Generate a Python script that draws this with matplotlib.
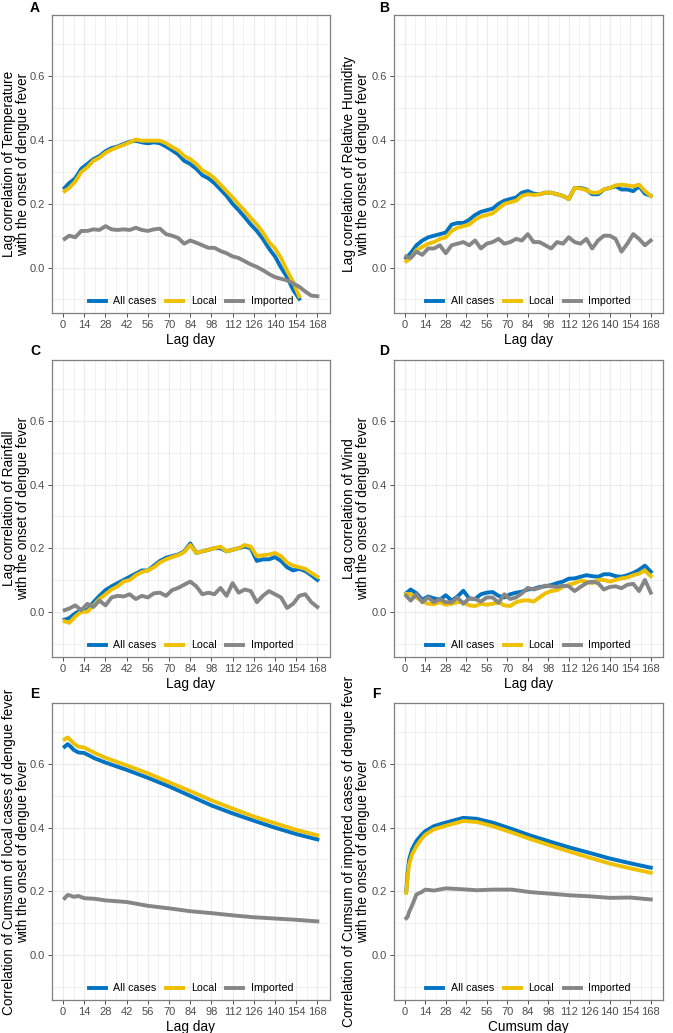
import numpy as np
import matplotlib
matplotlib.use("Agg")
import matplotlib.pyplot as plt

plt.rcParams['font.family'] = ['Liberation Sans', 'DejaVu Sans']

# lag days sampled every 4 days (first point = day 1)
lag = [1] + list(range(4, 169, 4))
nan = np.nan

temp_all = [0.25, 0.265, 0.28, 0.31, 0.325, 0.34, 0.35, 0.365, 0.375, 0.38, 0.388, 0.395, 0.398, 0.393,
            0.39, 0.393, 0.39, 0.38, 0.368, 0.355, 0.335, 0.325, 0.31, 0.29, 0.28, 0.265, 0.245, 0.225,
            0.20, 0.18, 0.158, 0.135, 0.115, 0.09, 0.06, 0.035, 0.0, -0.03, -0.07, -0.098, nan, nan, nan]
temp_local = [0.24, 0.25, 0.27, 0.30, 0.315, 0.335, 0.345, 0.36, 0.37, 0.378, 0.385, 0.393, 0.402, 0.398,
              0.398, 0.398, 0.398, 0.39, 0.378, 0.368, 0.35, 0.34, 0.325, 0.305, 0.295, 0.28, 0.26, 0.24,
              0.22, 0.198, 0.178, 0.155, 0.135, 0.11, 0.08, 0.06, 0.03, -0.01, -0.045, -0.09, nan, nan, nan]
temp_imp = [0.09, 0.10, 0.095, 0.115, 0.115, 0.12, 0.118, 0.13, 0.12, 0.118, 0.12, 0.118, 0.125, 0.118,
            0.115, 0.12, 0.122, 0.105, 0.10, 0.093, 0.075, 0.085, 0.078, 0.07, 0.062, 0.062, 0.052, 0.045,
            0.035, 0.03, 0.02, 0.01, 0.002, -0.008, -0.02, -0.03, -0.035, -0.04, -0.05, -0.06, -0.075,
            -0.088, -0.09]

hum_all = [0.03, 0.045, 0.07, 0.085, 0.095, 0.10, 0.105, 0.11, 0.135, 0.14, 0.14, 0.15, 0.165, 0.175,
           0.18, 0.185, 0.20, 0.21, 0.215, 0.22, 0.235, 0.24, 0.232, 0.23, 0.235, 0.235, 0.23, 0.225,
           0.215, 0.25, 0.25, 0.245, 0.23, 0.23, 0.245, 0.25, 0.255, 0.245, 0.245, 0.24, 0.255, 0.232, 0.225]
hum_local = [0.02, 0.03, 0.055, 0.065, 0.075, 0.08, 0.09, 0.095, 0.115, 0.125, 0.13, 0.135, 0.15, 0.16,
             0.165, 0.17, 0.185, 0.20, 0.205, 0.21, 0.225, 0.23, 0.228, 0.23, 0.235, 0.235, 0.23, 0.225,
             0.215, 0.25, 0.248, 0.243, 0.235, 0.235, 0.245, 0.25, 0.258, 0.26, 0.258, 0.255, 0.26, 0.24,
             0.225]
hum_imp = [0.035, 0.03, 0.05, 0.04, 0.06, 0.06, 0.07, 0.045, 0.07, 0.075, 0.08, 0.07, 0.085, 0.06,
           0.075, 0.08, 0.09, 0.075, 0.08, 0.09, 0.085, 0.105, 0.08, 0.08, 0.07, 0.06, 0.08, 0.075,
           0.095, 0.08, 0.075, 0.09, 0.06, 0.085, 0.10, 0.10, 0.09, 0.05, 0.075, 0.105, 0.09, 0.07, 0.085]

rain_all = [-0.025, -0.02, -0.005, 0.005, 0.005, 0.03, 0.05, 0.068, 0.08, 0.09, 0.10, 0.11, 0.12, 0.13,
            0.13, 0.145, 0.16, 0.17, 0.175, 0.18, 0.19, 0.215, 0.185, 0.19, 0.195, 0.2, 0.2, 0.19,
            0.195, 0.2, 0.205, 0.2, 0.16, 0.165, 0.165, 0.172, 0.16, 0.14, 0.13, 0.135, 0.128, 0.115, 0.10]
rain_local = [-0.03, -0.035, -0.015, 0.0, 0.0, 0.02, 0.04, 0.055, 0.07, 0.08, 0.095, 0.10, 0.115, 0.125,
              0.13, 0.14, 0.155, 0.165, 0.172, 0.178, 0.188, 0.21, 0.185, 0.19, 0.195, 0.2, 0.205, 0.19,
              0.195, 0.2, 0.21, 0.205, 0.175, 0.178, 0.18, 0.185, 0.175, 0.155, 0.145, 0.14, 0.135, 0.122,
              0.11]
rain_imp = [0.005, 0.01, 0.02, 0.005, 0.025, 0.015, 0.035, 0.02, 0.045, 0.05, 0.048, 0.055, 0.04, 0.05,
            0.045, 0.058, 0.06, 0.05, 0.068, 0.075, 0.085, 0.095, 0.08, 0.055, 0.06, 0.055, 0.075, 0.05,
            0.09, 0.06, 0.07, 0.065, 0.03, 0.05, 0.065, 0.055, 0.045, 0.012, 0.025, 0.05, 0.055, 0.03, 0.015]

wind_all = [0.058, 0.07, 0.058, 0.038, 0.048, 0.042, 0.038, 0.052, 0.035, 0.048, 0.066, 0.042, 0.04, 0.055,
            0.06, 0.062, 0.05, 0.045, 0.055, 0.06, 0.063, 0.07, 0.072, 0.078, 0.08, 0.084, 0.09, 0.095,
            0.104, 0.105, 0.11, 0.115, 0.112, 0.11, 0.118, 0.118, 0.112, 0.11, 0.115, 0.122, 0.132, 0.145,
            0.126]
wind_local = [0.056, 0.055, 0.045, 0.032, 0.025, 0.024, 0.03, 0.022, 0.025, 0.03, 0.03, 0.02, 0.018, 0.025,
              0.022, 0.025, 0.03, 0.02, 0.018, 0.03, 0.035, 0.036, 0.032, 0.045, 0.058, 0.065, 0.068, 0.078,
              0.085, 0.09, 0.098, 0.095, 0.09, 0.1, 0.1, 0.095, 0.1, 0.105, 0.108, 0.115, 0.12, 0.13, 0.112]
wind_imp = [0.05, 0.035, 0.055, 0.03, 0.045, 0.03, 0.04, 0.03, 0.03, 0.045, 0.025, 0.042, 0.04, 0.032,
            0.045, 0.045, 0.028, 0.055, 0.04, 0.045, 0.058, 0.075, 0.07, 0.075, 0.082, 0.08, 0.078, 0.082,
            0.08, 0.065, 0.078, 0.09, 0.095, 0.09, 0.07, 0.078, 0.08, 0.074, 0.085, 0.088, 0.065, 0.1, 0.06]

# cumulative panels are smooth, sampled more sparsely
cum_local_day = [1, 3, 5, 7, 10, 14, 21, 28, 42, 56, 70, 84, 98, 112, 126, 140, 154, 168]
cumlocal_all = [0.655, 0.663, 0.655, 0.645, 0.637, 0.635, 0.618, 0.605, 0.582, 0.557, 0.53, 0.50, 0.47,
                0.445, 0.422, 0.40, 0.38, 0.363]
cumlocal_local = [0.678, 0.684, 0.675, 0.665, 0.655, 0.652, 0.635, 0.62, 0.596, 0.571, 0.543, 0.515, 0.486,
                  0.46, 0.435, 0.414, 0.393, 0.376]
cumlocal_imp = [0.178, 0.188, 0.186, 0.182, 0.185, 0.178, 0.176, 0.171, 0.166, 0.154, 0.146, 0.137, 0.131,
                0.124, 0.118, 0.114, 0.110, 0.105]

cum_imp_day = [1, 2, 3, 5, 8, 11, 14, 20, 28, 40, 49, 60, 73, 86, 100, 113, 126, 140, 154, 168]
cumimp_all = [0.20, 0.26, 0.30, 0.332, 0.358, 0.375, 0.389, 0.405, 0.416, 0.431, 0.428, 0.416, 0.396, 0.375,
              0.355, 0.337, 0.321, 0.303, 0.288, 0.274]
cumimp_local = [0.195, 0.245, 0.285, 0.316, 0.342, 0.362, 0.378, 0.395, 0.406, 0.421, 0.418, 0.405, 0.385,
                0.364, 0.343, 0.324, 0.306, 0.287, 0.272, 0.258]
cumimp_imp = [0.115, 0.12, 0.135, 0.155, 0.19, 0.196, 0.205, 0.202, 0.209, 0.206, 0.203, 0.205, 0.205,
              0.197, 0.192, 0.187, 0.184, 0.179, 0.180, 0.174]

series_names = ['All cases', 'Local', 'Imported']
colors = ['#0073C2', '#EFC000', '#868686']

panels = [
    ('A', lag, [temp_all, temp_local, temp_imp],
     'Lag correlation of Temperature\nwith the onset of dengue fever', 'Lag day'),
    ('B', lag, [hum_all, hum_local, hum_imp],
     'Lag correlation of Relative Humidity\nwith the onset of dengue fever', 'Lag day'),
    ('C', lag, [rain_all, rain_local, rain_imp],
     'Lag correlation of Rainfall\nwith the onset of dengue fever', 'Lag day'),
    ('D', lag, [wind_all, wind_local, wind_imp],
     'Lag correlation of Wind\nwith the onset of dengue fever', 'Lag day'),
    ('E', cum_local_day, [cumlocal_all, cumlocal_local, cumlocal_imp],
     'Correlation of Cumsum of local cases of dengue fever\nwith the onset of dengue fever', 'Lag day'),
    ('F', cum_imp_day, [cumimp_all, cumimp_local, cumimp_imp],
     'Correlation of Cumsum of imported cases of dengue fever\nwith the onset of dengue fever', 'Cumsum day'),
]

W, H = 673, 1033
fig = plt.figure(figsize=(W / 100, H / 100), dpi=100)

# axes boxes in pixels: left, right / top, bottom
cols = [(52, 330), (394, 663)]
rows = [(15, 313), (360, 657), (703, 1000)]
letter_pos = [(30, 8), (379, 8), (30, 351), (379, 351), (30, 694), (372, 694)]

for i, (letter, x, ys, ylab, xlab) in enumerate(panels):
    (l, r) = cols[i % 2]
    (t, b) = rows[i // 2]
    ax = fig.add_axes([l / W, 1 - b / H, (r - l) / W, (b - t) / H])

    for y, name, c in zip(ys, series_names, colors):
        ax.plot(x, y, color=c, lw=2.8, label=name, solid_joinstyle='round')

    ax.set_xlim(-7.35, 176.35)
    ax.set_ylim(-0.1425, 0.7925)
    ax.set_xticks(np.arange(0, 169, 14))
    ax.set_xticks(np.arange(7, 169, 14), minor=True)
    ax.set_yticks([0.0, 0.2, 0.4, 0.6])
    ax.set_yticks([-0.1, 0.1, 0.3, 0.5, 0.7], minor=True)
    ax.set_yticklabels(['0.0', '0.2', '0.4', '0.6'])
    ax.grid(which='major', color='#EBEBEB', lw=0.8)
    ax.grid(which='minor', color='#EBEBEB', lw=0.5)
    ax.set_axisbelow(True)
    ax.tick_params(which='major', length=3, width=0.6, color='#333333',
                   labelsize=8, labelcolor='#4D4D4D', pad=2)
    ax.tick_params(which='minor', length=0)
    for s in ax.spines.values():
        s.set_color('#7F7F7F')
        s.set_linewidth(0.9)

    ax.set_xlabel(xlab, fontsize=9.8, labelpad=2)
    ax.set_ylabel(ylab, fontsize=9.8, linespacing=1.05, va='center', ha='center')
    if i % 2 == 0:
        ax.yaxis.set_label_coords(-36 / (r - l), 0.5)
    else:
        ax.yaxis.set_label_coords(-38 / (r - l), 0.5)

    ax.legend(loc='lower center', bbox_to_anchor=(0.5, -0.01), ncol=3, frameon=False,
              fontsize=7.7, handlelength=1.6, handletextpad=0.7, columnspacing=0.9)

    lx, ly = letter_pos[i]
    fig.text(lx / W, 1 - ly / H, letter, fontsize=10, fontweight='bold', va='center', ha='left')

fig.savefig('out.png', dpi=100)
